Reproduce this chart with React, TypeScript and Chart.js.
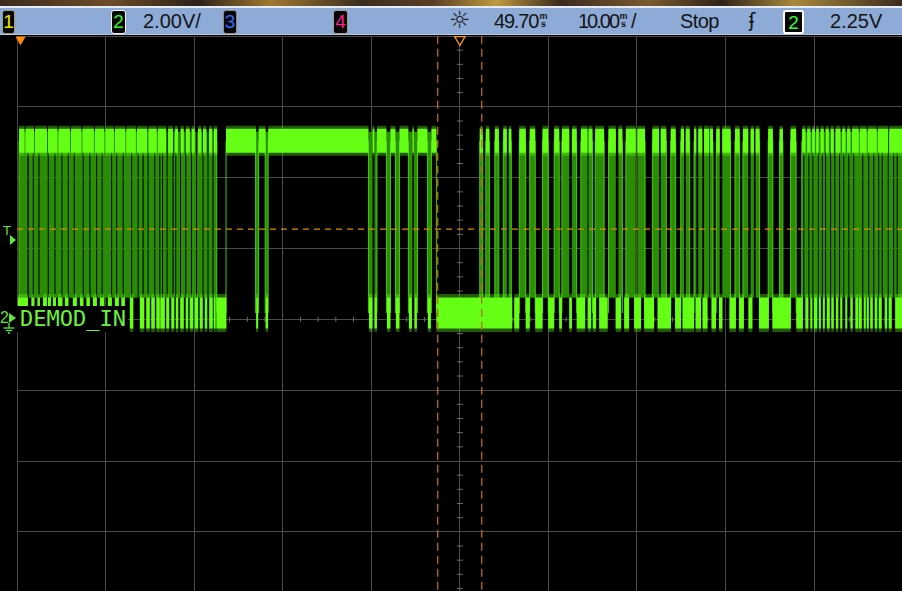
import React, { useEffect, useRef } from "react";
import { Chart, registerables } from "chart.js";

Chart.register(...registerables);

// ---------------- data: time in ms across the screen (10 ms/div), volts (2 V/div) ----------------
const highLevelV = 5.04;
const lowLevelV = 0.18;
const midLevelV = 2.95;
const triggerLevelV = 2.55;
const cursorTimesMs = [47.5, 52.47];
const triggerTimeMs = 0.4;
const centerTimeMs = 50;
const markerV = 7.9;

// spans where the trace toggles fast (dim fill between the two levels)
const burstSpans: [number, number][] = [
  [0.23, 1.18], [1.33, 1.78], [1.89, 2.42], [2.54, 3.47], [3.59, 4.23], [4.34, 5.02], [5.13, 5.73],
  [5.84, 6.4], [6.52, 7.42], [7.53, 8.17], [8.29, 8.94], [9.05, 9.56], [9.67, 10.63], [10.74, 11.2],
  [11.31, 11.93], [12.04, 12.89], [13.0, 13.62], [13.73, 14.18], [14.3, 14.75], [14.86, 15.5],
  [15.61, 16.07], [16.18, 16.38], [16.49, 16.89], [17.0, 17.56], [17.68, 17.87], [17.98, 18.41],
  [18.52, 19.0], [19.11, 19.65], [19.76, 20.21], [20.33, 20.95], [21.06, 21.51], [21.62, 22.07],
  [22.19, 22.55],
  [26.94, 27.28], [28.02, 28.35], [39.68, 40.14], [40.36, 40.64], [41.71, 42.16], [42.73, 43.18],
  [44.19, 44.65], [44.81, 45.21], [46.34, 46.79],
  [52.25, 52.59], [52.93, 53.33], [53.95, 54.4], [54.9, 55.3], [55.52, 55.81], [56.71, 57.44],
  [57.89, 58.51], [59.34, 59.98], [60.65, 61.22], [61.52, 62.35], [62.65, 63.19], [63.66, 64.41],
  [64.52, 64.97], [65.28, 66.29], [66.78, 67.61], [67.9, 68.35], [68.74, 69.86], [70.04, 70.91],
  [71.74, 72.49], [72.68, 73.31], [73.81, 74.37], [74.94, 75.31], [75.5, 75.95], [76.44, 76.7],
  [76.92, 77.37], [77.57, 78.13], [78.21, 78.58], [78.95, 79.34], [79.63, 80.57], [81.06, 81.59],
  [81.96, 82.56], [82.83, 83.2], [83.39, 83.84], [84.81, 85.34], [86.1, 86.47], [87.34, 87.97],
  [88.61, 88.78], [88.89, 89.35], [89.46, 89.8], [89.91, 90.42], [90.53, 90.87], [90.98, 91.24],
  [91.35, 91.8], [91.92, 92.28], [92.39, 92.82], [92.93, 93.29], [93.4, 93.86], [93.97, 94.42],
  [94.53, 95.43], [95.55, 96.11], [96.22, 96.67], [96.79, 97.24], [97.35, 97.63], [97.75, 98.31],
  [98.42, 98.93], [99.04, 99.32], [99.43, 100],
];

// isolated single transitions
const singleEdgesMs = [23.6, 47.35];

// time spans where the high level is lit
const highSpans: [number, number][] = [
  [0.23, 0.85], [0.96, 1.92], [2.03, 3.38], [3.49, 4.57], [4.68, 5.98], [6.09, 7.27], [7.38, 8.68],
  [8.79, 9.86], [9.98, 10.94], [11.05, 12.23], [12.34, 13.42], [13.53, 14.71], [14.83, 15.78],
  [15.9, 16.85], [17.06, 17.62], [17.81, 18.18], [18.46, 18.83], [19.05, 19.5], [19.7, 20.07],
  [20.44, 20.82], [21.0, 21.39], [21.68, 22.06], [22.21, 22.6],
  [23.6, 27.0], [27.28, 28.07], [28.35, 39.68], [40.14, 40.36], [40.64, 41.71], [42.16, 42.73],
  [43.18, 44.19], [44.65, 44.81], [45.21, 46.34], [46.79, 47.35],
  [52.25, 52.59], [52.93, 53.33], [53.95, 54.4], [54.9, 55.3], [55.52, 55.81], [56.71, 57.44],
  [57.89, 58.51], [59.34, 59.98], [60.65, 61.22], [61.52, 62.35], [62.65, 63.19], [63.66, 64.41],
  [64.52, 64.97], [65.28, 66.29], [66.78, 67.61], [67.9, 68.35], [68.74, 69.86], [70.04, 70.91],
  [71.74, 72.49], [72.68, 73.31], [73.81, 74.37], [74.94, 75.31], [75.5, 75.95], [76.44, 76.7],
  [76.92, 77.37], [77.57, 78.13], [78.21, 78.58], [78.95, 79.34], [79.63, 80.57], [81.06, 81.59],
  [81.96, 82.56], [82.83, 83.2], [83.39, 83.84], [84.81, 85.34], [86.1, 86.47], [87.34, 87.97],
  [88.65, 89.03], [89.21, 89.59], [89.77, 90.08], [90.23, 90.53], [90.72, 91.09], [91.28, 91.66],
  [91.85, 92.22], [92.41, 92.98], [93.16, 93.54], [93.72, 94.1], [94.28, 95.04], [95.15, 95.94],
  [96.05, 97.07], [97.18, 98.36], [98.48, 100],
];

// time spans where the low level is lit
const lowSpans: [number, number][] = [
  [0.1, 1.24], [1.63, 1.97], [2.31, 2.59], [2.93, 3.38], [3.49, 3.83], [4.06, 4.4], [4.62, 5.13],
  [5.41, 5.81], [6.31, 6.76], [7.1, 7.5], [7.84, 8.23], [8.57, 9.02], [9.36, 9.86], [10.26, 10.71],
  [11.05, 11.5], [11.78, 12.18], [12.74, 13.13], [13.87, 14.37], [14.6, 14.99], [15.16, 15.56],
  [15.73, 16.12], [16.18, 16.69], [16.85, 17.19], [17.42, 17.76], [17.93, 18.21], [18.43, 18.83],
  [19.05, 19.33], [19.5, 19.9], [20.07, 20.46], [20.63, 20.97], [21.2, 21.48], [21.7, 22.1],
  [22.21, 22.43], [22.51, 23.64],
  [27.0, 27.23], [28.07, 28.35], [39.74, 40.14], [40.36, 40.64], [41.77, 42.16], [42.78, 43.18],
  [44.25, 44.59], [44.87, 45.15], [46.39, 46.73],
  [47.35, 52.42],
  [52.42, 55.92], [56.14, 56.71], [57.44, 57.89], [58.51, 59.34], [59.98, 60.65], [61.22, 61.52],
  [62.35, 62.65], [63.19, 64.15], [64.43, 64.83], [65.0, 65.39], [65.73, 66.69], [67.59, 68.21],
  [68.55, 69.11], [69.67, 70.46], [70.8, 71.93], [72.32, 73.84], [74.3, 74.97], [75.14, 76.44],
  [76.61, 77.23], [77.4, 77.96], [78.41, 78.92], [79.26, 79.65], [80.44, 81.17], [81.51, 82.07],
  [82.58, 83.03], [83.77, 84.89], [85.29, 87.37], [87.99, 88.73], [89.01, 89.35], [89.57, 89.8],
  [89.97, 90.36], [90.53, 90.76], [90.98, 91.21], [91.43, 91.77], [91.94, 92.22], [92.45, 92.73],
  [92.95, 93.18], [93.52, 93.74], [94.09, 94.36], [94.65, 94.98], [95.04, 95.38], [95.6, 95.83],
  [95.94, 96.17], [96.34, 96.62], [96.84, 97.13], [97.29, 97.63], [97.97, 98.25], [98.42, 98.76],
  [99.15, 100],
];

// minor graticule marks on the centre lines
const hTicksMs = [2, 4, 6, 8, 12, 14, 16, 18, 22, 24, 26, 28, 32, 34, 36, 38, 42, 44, 46, 48,
  52, 54, 56, 58, 62, 64, 66, 68, 72, 74, 76, 78, 82, 84, 86, 88, 92, 94, 96, 98];
const vTicksV = [-7.6, -7.2, -6.8, -6.4, -5.6, -5.2, -4.8, -4.4, -3.6, -3.2, -2.8, -2.4, -1.6, -1.2,
  -0.8, -0.4, 0.4, 0.8, 1.2, 1.6, 2.4, 2.8, 3.2, 3.6, 4.4, 4.8, 5.2, 5.6, 6.4, 6.8, 7.2, 7.6];

// ---------------- helpers building the tables Chart.js needs ----------------
type P = { x: number; y: number | null };
const spanPoints = (spans: [number, number][], v: number): P[] =>
  spans.flatMap(([a, b]) => [{ x: a, y: v }, { x: b, y: v }, { x: b, y: null }]);
const vLines = (times: number[], v0: number, v1: number): P[] =>
  times.flatMap((t) => [{ x: t, y: v0 }, { x: t, y: v1 }, { x: t, y: null }]);
const edgeTimes = (): number[] => {
  const t: number[] = [];
  burstSpans.forEach(([a, b], i) => {
    const prev = i > 0 ? burstSpans[i - 1][1] : -Infinity;
    const next = i < burstSpans.length - 1 ? burstSpans[i + 1][0] : Infinity;
    if (a - prev >= 0.3) t.push(a);
    if (next - b >= 0.3) t.push(b);
  });
  return [...t, ...singleEdgesMs].sort((p, q) => p - q);
};

const BRIGHT = "#64ff14";
const line = (extra: any) => ({
  pointRadius: 0,
  borderCapStyle: "butt",
  fill: false,
  tension: 0,
  spanGaps: false,
  ...extra,
});

function buildConfig(): any {
  return {
    type: "line",
    data: {
      datasets: [
        line({ order: 0, data: [{ x: triggerTimeMs, y: markerV }], showLine: false, pointRadius: 5,
          pointStyle: "triangle", rotation: 180, backgroundColor: "#ff8c00", borderColor: "#ff8c00", clip: false }),
        line({ order: 0, data: [{ x: centerTimeMs, y: markerV }], showLine: false, pointRadius: 6,
          pointStyle: "triangle", rotation: 180, backgroundColor: "#000", borderColor: "#ff9a1a", borderWidth: 1.3, clip: false }),
        line({ order: 1, data: vLines(cursorTimesMs, -8, 8), borderColor: "#c0671a", borderWidth: 1.3, borderDash: [8, 5] }),
        line({ order: 2, data: [{ x: 0, y: triggerLevelV }, { x: 100, y: triggerLevelV }], borderColor: "#df8a08",
          borderWidth: 1.2, borderDash: [6, 5] }),
        line({ order: 3, data: spanPoints(highSpans, highLevelV), borderColor: BRIGHT, borderWidth: 24 }),
        line({ order: 3, data: spanPoints(lowSpans, lowLevelV), borderColor: BRIGHT, borderWidth: 31 }),
        line({ order: 4, data: spanPoints(highSpans, highLevelV), borderColor: "rgba(100,255,20,0.35)", borderWidth: 30 }),
        line({ order: 4, data: spanPoints(lowSpans, lowLevelV), borderColor: "rgba(100,255,20,0.35)", borderWidth: 38 }),
        line({ order: 6, data: vLines(edgeTimes(), lowLevelV, highLevelV), borderColor: "#45c810", borderWidth: 1 }),
        line({ order: 7, data: spanPoints(burstSpans, midLevelV), borderColor: "#2b8c06", borderWidth: 166 }),
        line({ order: 8, data: hTicksMs.map((x) => ({ x, y: 0 })), showLine: false, pointRadius: 2.5,
          pointStyle: "line", rotation: 90, borderColor: "#6c6c6c", borderWidth: 1 }),
        line({ order: 8, data: vTicksV.map((y) => ({ x: centerTimeMs, y })), showLine: false, pointRadius: 3,
          pointStyle: "line", rotation: 0, borderColor: "#6c6c6c", borderWidth: 1 }),
      ],
    },
    options: {
      animation: false,
      responsive: false,
      events: [],
      layout: { padding: { left: 17, top: 36, right: 6, bottom: 6 } },
      plugins: { legend: { display: false }, tooltip: { enabled: false }, title: { display: false } },
      scales: {
        x: {
          type: "linear", min: 0, max: 100,
          ticks: { display: false, stepSize: 10 },
          grid: { color: "#4a4a4a", lineWidth: 1, drawTicks: false },
          border: { display: false },
        },
        y: {
          type: "linear", min: -8, max: 8,
          ticks: { display: false, stepSize: 2 },
          grid: { color: "#4a4a4a", lineWidth: 1, drawTicks: false },
          border: { display: false },
        },
      },
    },
  };
}

// ---------------- overlay widgets ----------------
const abs = (s: any) => ({ position: "absolute", ...s });
const hdrFont = '"Liberation Sans", Arial, sans-serif';

function Badge({ x, w, text, color, border, bw = 1 }: any) {
  return (
    <div style={abs({ left: x, top: 10, width: w, height: 24, boxSizing: "border-box", background: "#050505",
      border: `${bw}px solid ${border}`, borderRadius: 3, color, fontFamily: hdrFont, fontSize: 19,
      lineHeight: "22px", textAlign: "center" })}>{text}</div>
  );
}

function HText({ x, text, ls = 0 }: any) {
  return (
    <div style={abs({ left: x, top: 10, fontFamily: hdrFont, fontSize: 20, lineHeight: "22px", color: "#141414",
      whiteSpace: "pre", letterSpacing: ls })}>{text}</div>
  );
}

function Unit({ x }: any) {
  return (
    <div style={abs({ left: x, top: 12, width: 9, fontFamily: hdrFont, fontSize: 9, lineHeight: "8px",
      color: "#141414", textAlign: "center", fontWeight: "bold" })}>m<br />s</div>
  );
}

export default function App() {
  const ref = useRef<HTMLCanvasElement | null>(null);
  useEffect(() => {
    const chart = new Chart(ref.current as HTMLCanvasElement, buildConfig());
    return () => chart.destroy();
  }, []);
  const green = "#5fe83c";
  return (
    <div style={abs({ position: "fixed", left: 0, top: 0, width: 902, height: 591, overflow: "hidden", background: "#000" })}>
      <canvas ref={ref} width={910} height={610} style={abs({ left: 0, top: 0, width: 910, height: 610 })} />
      {/* header */}
      <div style={abs({ left: 0, top: 0, width: 902, height: 6,
        background: "linear-gradient(90deg,#3a2a1e 0%,#6e4c2a 12%,#2c2018 22%,#a07a34 30%,#3b2c20 40%,#5a3e26 48%,#c09a40 55%,#3a2a1e 62%,#7a5a30 72%,#2e2218 80%,#a88a3c 88%,#3a2a1e 100%)" })} />
      <div style={abs({ left: 0, top: 6, width: 902, height: 2, background: "#e6ecf6" })} />
      <div style={abs({ left: 0, top: 8, width: 902, height: 27, background: "#8eaad6" })} />
      <div style={abs({ left: 0, top: 34, width: 902, height: 1, background: "#b8c6de" })} />
      <Badge x={2} w={13} text="1" color="#e8e800" border="#9c9c78" />
      <Badge x={111} w={15} text="2" color="#30f530" border="#f2f2f2" />
      <HText x={143} text="2.00V/" />
      <Badge x={223} w={14} text="3" color="#2c6cff" border="#8c8c8c" />
      <Badge x={333} w={15} text="4" color="#ff1f8f" border="#9c9c9c" />
      <div style={abs({ left: 449, top: 7, fontFamily: '"DejaVu Sans", sans-serif', fontSize: 24, lineHeight: "26px", color: "#202020" })}>☼</div>
      <HText x={494} text="49.70" ls={-1.2} />
      <Unit x={539} />
      <HText x={578} text="10.00" ls={-2} />
      <Unit x={619} />
      <HText x={631} text="/" />
      <HText x={680} text="Stop" ls={-0.6} />
      <div style={abs({ left: 749, top: 9, fontFamily: '"DejaVu Sans", sans-serif', fontSize: 19, lineHeight: "22px", color: "#141414" })}>ʄ</div>
      <Badge x={783} w={21} text="2" color="#33ff33" border="#ffffff" bw={2} />
      <HText x={830} text="2.25V" />
      {/* left markers */}
      <div style={abs({ left: 3, top: 224, fontFamily: '"DejaVu Sans", sans-serif', fontSize: 13, lineHeight: "14px", color: green })}>T</div>
      <div style={abs({ left: 10, top: 235, width: 0, height: 0, borderTop: "5px solid transparent",
        borderBottom: "5px solid transparent", borderLeft: `6px solid ${green}` })} />
      <div style={abs({ left: 0, top: 309, fontFamily: hdrFont, fontSize: 16, lineHeight: "18px", color: green })}>2</div>
      <div style={abs({ left: 9, top: 313, width: 0, height: 0, borderTop: "5px solid transparent",
        borderBottom: "5px solid transparent", borderLeft: `7px solid ${green}` })} />
      <svg width={12} height={11} style={abs({ left: 3, top: 323 })}>
        <line x1={6} y1={0} x2={6} y2={5} stroke={green} strokeWidth={1.3} />
        <line x1={0.5} y1={5} x2={11.5} y2={5} stroke={green} strokeWidth={1.3} />
        <line x1={3} y1={7.5} x2={9} y2={7.5} stroke={green} strokeWidth={1.3} />
        <line x1={5} y1={10} x2={7} y2={10} stroke={green} strokeWidth={1.3} />
      </svg>
      <div style={abs({ left: 17, top: 306, width: 111, height: 26, background: "#000", color: "#6cf23c",
        fontFamily: '"DejaVu Sans Mono", monospace', fontSize: 22, lineHeight: "26px", paddingLeft: 3, boxSizing: "border-box",
        whiteSpace: "pre" })}>DEMOD_IN</div>
    </div>
  );
}
